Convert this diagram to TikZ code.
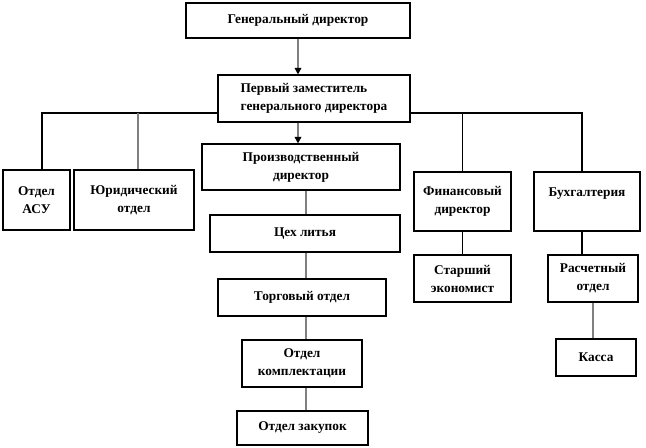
\documentclass[tikz,border=0pt]{standalone}
\usepackage{fontspec}
\setmainfont{Liberation Serif}
\usetikzlibrary{arrows.meta}

\begin{document}
\begin{tikzpicture}[x=0.75pt, y=-0.75pt,
  box/.style={draw, line width=0.8pt, fill=white, align=center, inner sep=0pt,
    font=\fontsize{10}{13.5}\selectfont\bfseries},
  wh/.style 2 args={minimum width=#1*0.75pt, minimum height=#2*0.75pt},
  link/.style={black, line width=0.8pt},
  glink/.style={gray, line width=1.2pt},
  garrow/.style={glink, -{Triangle[color=black, length=5pt, width=5pt]}}]
\useasboundingbox (0,0) rectangle (646,448);
\node[box, wh={224}{35}] (gen) at (298,20.5) {Генеральный директор};
\node[box, wh={192}{47}, align=left] (zam) at (314,98.5) {Первый заместитель\\ генерального директора};
\node[box, wh={67}{60}] (asu) at (36.5,200) {Отдел\\ АСУ};
\node[box, wh={120}{60}] (jur) at (134,200) {Юридический\\ отдел};
\node[box, wh={198}{46}] (proizv) at (301,167) {Производственный\\ директор};
\node[box, wh={190}{37}] (ceh) at (305,233.5) {Цех литья};
\node[box, wh={168}{37}] (torg) at (302,297.5) {Торговый отдел};
\node[box, wh={120}{47}] (kompl) at (302,363.5) {Отдел\\ комплектации};
\node[box, wh={131}{34}] (zak) at (302.5,428) {Отдел закупок};
\node[box, wh={97}{59}] (fin) at (462.5,201.5) {Финансовый\\ директор};
\node[box, wh={97}{47}] (star) at (462.5,278.5) {Старший\\ экономист};
\node[box, wh={106}{59}] (buh) at (587,201.5) {Бухгалтерия\\ \mbox{}};
\node[box, wh={90}{47}] (rasch) at (593,278.5) {Расчетный\\ отдел};
\node[box, wh={80}{37}] (kassa) at (596,357.5) {Касса};

\coordinate (busL) at (42,113);
\coordinate (busR) at (582,113);
\coordinate (jurT) at (138,113);
\coordinate (ch) at (306,0);

\draw[garrow] (gen.south) -- (gen.south |- zam.north);
\draw[garrow] (zam.south -| gen.south) -- (gen.south |- proizv.north);
\draw[link] (busL |- asu.north) -- (busL) -- (zam.west |- busL);
\draw[link] (zam.east |- busR) -- (busR) -- (busR |- buh.north);
\draw[glink] (jurT) -- (jurT |- jur.north);
\draw[link] (fin.north |- busR) -- (fin.north);
\draw[link] (fin) -- (star);
\draw[link] (buh.south -| busR) -- (rasch.north -| busR);
\draw[glink] (rasch.south) -- (rasch.south |- kassa.north);
\foreach \a/\b in {proizv/ceh, ceh/torg, torg/kompl, kompl/zak}
  \draw[glink] (\a.south -| ch) -- (\b.north -| ch);
\end{tikzpicture}
\end{document}
